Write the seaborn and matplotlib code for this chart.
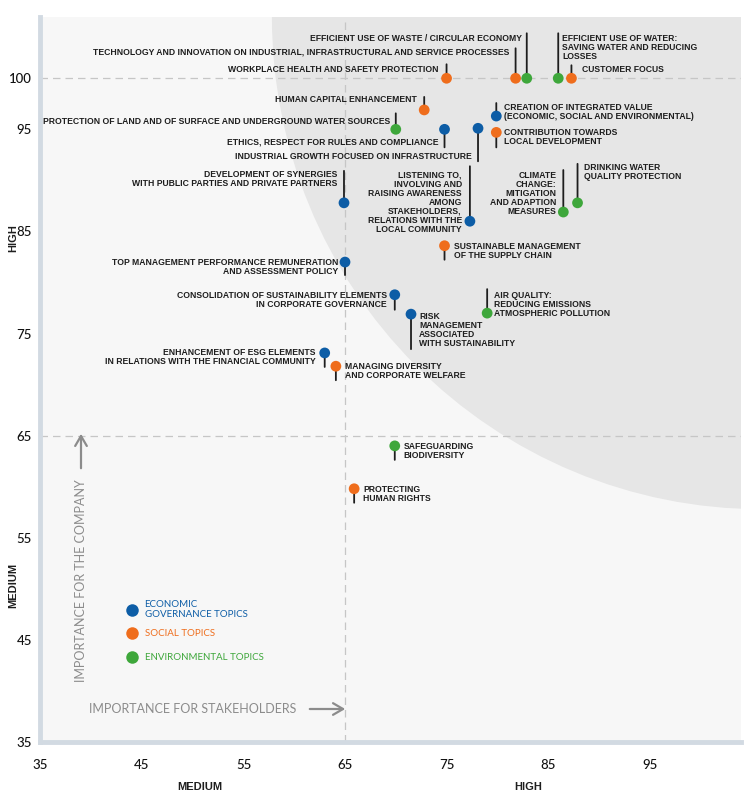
import matplotlib
matplotlib.use('Agg')
import matplotlib.pyplot as plt
import pandas as pd
import seaborn as sns
from matplotlib.patches import Circle
from matplotlib.lines import Line2D

# Materiality matrix data
topics = [
    "WORKPLACE HEALTH AND SAFETY PROTECTION",
    "TECHNOLOGY AND INNOVATION ON INDUSTRIAL, INFRASTRUCTURAL AND SERVICE PROCESSES",
    "EFFICIENT USE OF WASTE / CIRCULAR ECONOMY",
    "EFFICIENT USE OF WATER:\nSAVING WATER AND REDUCING\nLOSSES",
    "CUSTOMER FOCUS",
    "HUMAN CAPITAL ENHANCEMENT",
    "CREATION OF INTEGRATED VALUE\n(ECONOMIC, SOCIAL AND ENVIRONMENTAL)",
    "PROTECTION OF LAND AND OF SURFACE AND UNDERGROUND WATER SOURCES",
    "ETHICS, RESPECT FOR RULES AND COMPLIANCE",
    "INDUSTRIAL GROWTH FOCUSED ON INFRASTRUCTURE",
    "CONTRIBUTION TOWARDS\nLOCAL DEVELOPMENT",
    "DEVELOPMENT OF SYNERGIES\nWITH PUBLIC PARTIES AND PRIVATE PARTNERS",
    "LISTENING TO,\nINVOLVING AND\nRAISING AWARENESS\nAMONG\nSTAKEHOLDERS,\nRELATIONS WITH THE\nLOCAL COMMUNITY",
    "CLIMATE\nCHANGE:\nMITIGATION\nAND ADAPTION\nMEASURES",
    "DRINKING WATER\nQUALITY PROTECTION",
    "SUSTAINABLE MANAGEMENT\nOF THE SUPPLY CHAIN",
    "TOP MANAGEMENT PERFORMANCE REMUNERATION\nAND ASSESSMENT POLICY",
    "CONSOLIDATION OF SUSTAINABILITY ELEMENTS\nIN CORPORATE GOVERNANCE",
    "RISK\nMANAGEMENT\nASSOCIATED\nWITH SUSTAINABILITY",
    "AIR QUALITY:\nREDUCING EMISSIONS\nATMOSPHERIC POLLUTION",
    "ENHANCEMENT OF ESG ELEMENTS\nIN RELATIONS WITH THE FINANCIAL COMMUNITY",
    "MANAGING DIVERSITY\nAND CORPORATE WELFARE",
    "SAFEGUARDING\nBIODIVERSITY",
    "PROTECTING\nHUMAN RIGHTS",
]
stakeholders = [75.0, 81.8, 82.9, 86.0, 87.3, 72.8, 79.9, 70.0, 74.8, 78.1, 79.9, 64.9,
                77.3, 86.5, 87.9, 74.8, 65.0, 69.9, 71.5, 79.0, 63.0, 64.1, 69.9, 65.9]
company = [100, 100, 100, 100, 100, 96.9, 96.3, 95.0, 95.0, 95.1, 94.7, 87.8,
           86.0, 86.9, 87.8, 83.6, 82.0, 78.8, 76.9, 77.0, 73.1, 71.8, 64.0, 59.8]
ECO = "ECONOMIC\nGOVERNANCE TOPICS"
SOC = "SOCIAL TOPICS"
ENV = "ENVIRONMENTAL TOPICS"
group = [SOC, SOC, ENV, ENV, SOC, SOC, ECO, ENV, ECO, ECO, SOC, ECO,
         ECO, ENV, ENV, SOC, ECO, ECO, ECO, ENV, ECO, SOC, ENV, SOC]
groups = [ECO, SOC, ENV]
x_ticks = [35, 45, 55, 65, 75, 85, 95]
y_ticks = [35, 45, 55, 65, 75, 85, 95, 100]

# label layout: text offset dx, dy (pixels), alignment, leader line end (pixels)
layout = [
    (-8, 9, 'right', 14), (-6, 26, 'right', 30), (-5, 40, 'right', 45),
    (4, 30.5, 'left', 45), (11, 9, 'left', 13), (-7, 10, 'right', 13),
    (8, 4.5, 'left', 13), (-6, 8, 'right', 16), (-6, -13, 'right', -18),
    (-6, -28, 'right', -33), (8, -5, 'left', -15), (-7, 24, 'right', 32),
    (-8, 19, 'right', 55), (-7, 18.5, 'right', 42), (6, 31, 'left', 39),
    (9, -5, 'left', -14), (-7, -4.5, 'right', -13), (-8, -5.5, 'right', -15),
    (8, -15.5, 'left', -35), (7, 9, 'left', 24), (-9, -4.5, 'right', -14),
    (9, -5, 'left', -14), (9, -5.5, 'left', -14), (9, -5.5, 'left', -14),
]

palette = {ECO: '#0d5da6', SOC: '#ef6d1c', ENV: '#3ea73b'}
ink = '#1e1e1e'
grey = '#8c8c8c'

df = pd.DataFrame({'topic': topics, 'x': stakeholders, 'y': company, 'group': group})

sns.set_theme(style='white')
plt.rcParams['font.family'] = ['Liberation Sans Narrow', 'Liberation Sans', 'DejaVu Sans']

fig = plt.figure(figsize=(7.52, 8), dpi=100)
ax = fig.add_axes([40.4 / 752, 58 / 800, 700.6 / 752, 725 / 800])
ax.set_facecolor('#f7f7f7')
ax.set_xlim(35, 104)
ax.set_ylim(35, 106)

# grey "high materiality" area
ax.add_patch(Circle((106, 106), 48.2, facecolor='#e6e6e6', edgecolor='none', zorder=0))

for v in [100, 65]:
    ax.axhline(v, color='#c6c6c6', lw=0.9, dashes=(6, 4), zorder=1)
ax.axvline(65, color='#c6c6c6', lw=0.9, dashes=(6, 4), zorder=1)

sns.scatterplot(data=df, x='x', y='y', hue='group', palette=palette, hue_order=groups,
                s=60, edgecolor='none', legend=False, ax=ax, zorder=3)

for (_, r), (dx, dy, ha, ly) in zip(df.iterrows(), layout):
    ax.annotate('', xy=(r.x, r.y), xytext=(0, ly), textcoords='offset pixels',
                arrowprops=dict(arrowstyle='-', color=ink, lw=1.3, shrinkA=0, shrinkB=0),
                zorder=2)
    ax.annotate(r.topic, xy=(r.x, r.y), xytext=(dx, dy), textcoords='offset pixels',
                ha=ha, va='center', fontsize=6.2, fontweight='bold', color=ink,
                linespacing=1.0, zorder=4)

ax.set_xticks(x_ticks)
ax.set_yticks(y_ticks)
ax.tick_params(axis='both', direction='in', length=12, width=0.8, color='#cdcdcd',
               labelsize=9.5, labelcolor='#111111')
ax.tick_params(axis='y', pad=6)
ax.tick_params(axis='x', pad=12)
for lab in ax.get_xticklabels() + ax.get_yticklabels():
    lab.set_family(['Lato', 'DejaVu Sans'])
    lab.set_fontweight('medium')
ax.set_xlabel('')
ax.set_ylabel('')
for side in ['top', 'right']:
    ax.spines[side].set_visible(False)
for side in ['left', 'bottom']:
    ax.spines[side].set_color('#d2dae2')
    ax.spines[side].set_linewidth(3.5)

# legend (first entry has two lines, so it gets its own block)
def dot(g):
    return Line2D([], [], ls='', marker='o', ms=9, mec='none', mfc=palette[g])

leg_font = dict(family=['Lato', 'DejaVu Sans'], size=7)
leg1 = ax.legend([dot(ECO)], [ECO], loc='center left', bbox_to_anchor=(0.1167, 0.1828),
                 frameon=False, prop=leg_font, handlelength=1.0, handletextpad=0.8,
                 borderpad=0, labelcolor=[palette[ECO]])
ax.add_artist(leg1)
ax.legend([dot(SOC), dot(ENV)], [SOC, ENV], loc='center left',
          bbox_to_anchor=(0.1167, 0.1331), frameon=False, prop=leg_font,
          handlelength=1.0, handletextpad=0.8, labelspacing=1.55, borderpad=0,
          labelcolor=[palette[SOC], palette[ENV]])

# axis captions
fig.text(13 / 752, 1 - 238 / 800, 'HIGH', rotation=90, ha='center', va='center',
         fontsize=8, fontweight='bold', color=ink)
fig.text(13 / 752, 1 - 585 / 800, 'MEDIUM', rotation=90, ha='center', va='center',
         fontsize=8, fontweight='bold', color=ink)
fig.text(200 / 752, 13 / 800, 'MEDIUM', ha='center', va='center',
         fontsize=8, fontweight='bold', color=ink)
fig.text(528 / 752, 13 / 800, 'HIGH', ha='center', va='center',
         fontsize=8, fontweight='bold', color=ink)

fig.text(81 / 752, 1 - 581 / 800, 'IMPORTANCE FOR THE COMPANY', rotation=90,
         ha='center', va='center', fontsize=9, color=grey, family=['Lato', 'DejaVu Sans'])
fig.text(193 / 752, 1 - 709 / 800, 'IMPORTANCE FOR STAKEHOLDERS',
         ha='center', va='center', fontsize=9, color=grey, family=['Lato', 'DejaVu Sans'])
arrow = dict(arrowstyle='->,head_length=0.6,head_width=0.35', color=grey, lw=1.6)
ax.annotate('', xy=(81, 800 - 431), xytext=(81, 800 - 471), xycoords='figure pixels',
            textcoords='figure pixels', arrowprops=arrow)
ax.annotate('', xy=(348, 800 - 709), xytext=(307, 800 - 709), xycoords='figure pixels',
            textcoords='figure pixels', arrowprops=arrow)

fig.savefig('out.png', dpi=100)
